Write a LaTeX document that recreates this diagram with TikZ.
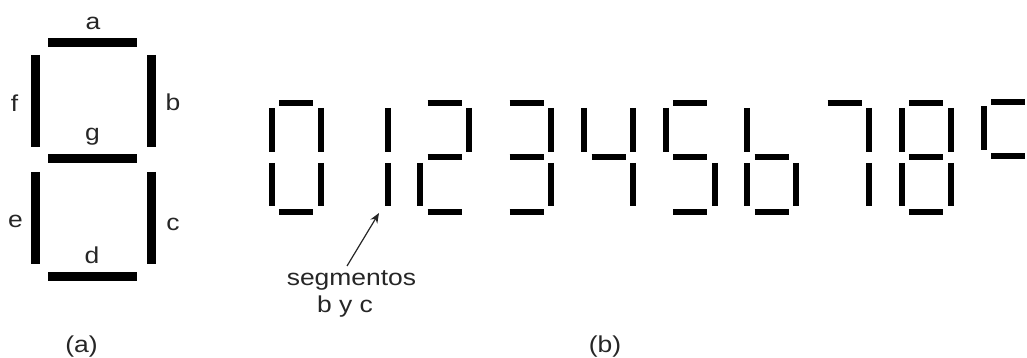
\documentclass[tikz,border=0pt]{standalone}
\usepackage{fontspec}
\setmainfont{Liberation Sans}
\newfontfamily\widesans[FakeStretch=1.15]{Liberation Sans}
\usetikzlibrary{arrows.meta}
\tikzset{
  bigseg/.style={line width=9pt, line cap=butt, black},
  sseg/.style={line width=6pt, line cap=butt, black},
  lbl/.style={font=\widesans\fontsize{23}{26}\selectfont, inner sep=0pt, anchor=base, text=black!85},
  pointer/.style={line width=1.2pt, black!85, -{Stealth[length=10pt,width=8pt]}}
}
\newcommand\dsega{\draw[sseg] (7.5,103.5) -- (41.5,103.5);}
\newcommand\dsegb{\draw[sseg] (49,108) -- (49,152);}
\newcommand\dsegc{\draw[sseg] (49,163) -- (49,206);}
\newcommand\dsegd{\draw[sseg] (7.5,211.5) -- (41.5,211.5);}
\newcommand\dsege{\draw[sseg] (0,163) -- (0,206);}
\newcommand\dsegf{\draw[sseg] (0,108) -- (0,152);}
\newcommand\dsegg{\draw[sseg] (7.5,157.5) -- (41.5,157.5);}
\newcommand\sdigit[3][0]{\begin{scope}[xshift=#2pt, yshift=#1pt]\foreach \s in {#3}{\csname dseg\s\endcsname}\end{scope}}
\begin{document}
\begin{tikzpicture}[x=1pt,y=-1pt]
\useasboundingbox (0,0) rectangle (1027,358);
% (a) big digit
\draw[bigseg] (48,42.5) -- (137,42.5);
\draw[bigseg] (151.5,55) -- (151.5,147);
\draw[bigseg] (151.5,172) -- (151.5,264);
\draw[bigseg] (48,276.5) -- (137,276.5);
\draw[bigseg] (35.5,172) -- (35.5,264);
\draw[bigseg] (35.5,55) -- (35.5,147);
\draw[bigseg] (48,159) -- (137,159);
\node[lbl] (la) at (93,30) {a};
\node[lbl] (lb) at (173,111) {b};
\node[lbl] (lc) at (173,230) {c};
\node[lbl] (ld) at (92,263) {d};
\node[lbl] (le) at (15.5,227) {e};
\node[lbl] (lf) at (14.5,112) {f};
\node[lbl] (lg) at (92.5,141) {g};
\node[lbl] (capa) at (81.5,352) {(a)};
% (b) digits
\sdigit{271.5}{a,b,c,d,e,f}
\sdigit{338.5}{b,c}
\sdigit{420}{a,b,g,e,d}
\sdigit{502}{a,b,g,c,d}
\sdigit{584}{f,b,g,c}
\sdigit{665.5}{a,f,g,c,d}
\sdigit{747}{f,g,e,c,d}
\sdigit{820}{a,b,c}
\sdigit{901.5}{a,b,c,d,e,f,g}
\sdigit[1.5]{983.5}{a,f,g}
\node[lbl] (seg) at (351.5,285) {segmentos};
\node[lbl] (byc) at (345,312) {b y c};
\coordinate (tail) at (347,266);
\coordinate (tip) at (379,213);
\draw[pointer] (tail) -- (tip);
\node[lbl] (capb) at (605,352) {(b)};
\end{tikzpicture}
\end{document}
